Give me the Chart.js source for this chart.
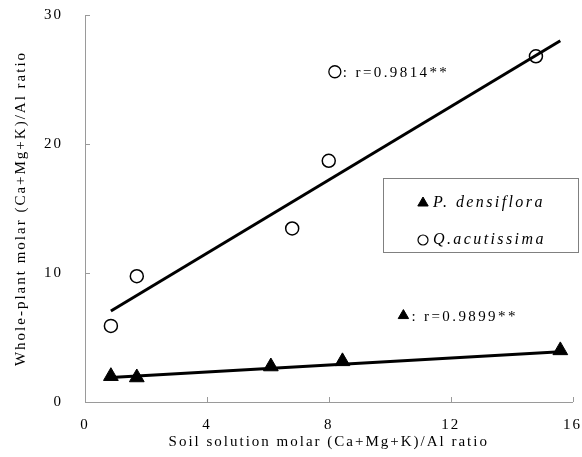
<!DOCTYPE html>
<html>
<head>
<meta charset="utf-8">
<script src="https://cdn.jsdelivr.net/npm/chart.js@4"></script>
<style>
  html, body { margin: 0; padding: 0; background: #fff; }
  #wrap { width: 582px; height: 457px; }
</style>
</head>
<body>
<div id="wrap"><canvas id="ratio-chart"></canvas></div>
<script>
/* soil vs whole-plant (Ca+Mg+K)/Al ratio */

var xTicks = [0, 4, 8, 12, 16];
var yTicks = [0, 10, 20, 30];

var quercusX = [0.85, 1.7, 6.8, 8.0, 14.8];
var quercusY = [5.9, 9.75, 13.45, 18.7, 26.8];

var pinusX = [0.85, 1.7, 6.1, 8.45, 15.6];
var pinusY = [2.0, 1.9, 2.75, 3.15, 4.0];

var quercusFitX = [0.85, 15.6];
var quercusFitY = [7.05, 28.0];

var pinusFitX = [0.85, 15.6];
var pinusFitY = [1.9, 3.9];

var labels = ['P. densiflora', 'Q.acutissima'];
var notes  = [': r=0.9814**', ': r=0.9899**'];
var notePos = [[8.2, 25.6], [10.45, 6.7]];

var SERIF = '"Liberation Serif", "DejaVu Serif", serif';

function pts(xs, ys) {
    return xs.map(function(x, i) { return { x: x, y: ys[i] }; });
}

var spacing = {
    id: 'spacing',
    beforeUpdate: function(chart) { chart.ctx.letterSpacing = '2px'; },
    beforeDraw: function(chart) { chart.ctx.letterSpacing = '2px'; }
};

var innerTicks = {
    id: 'innerTicks',
    afterDraw: function(chart) {
        var ctx = chart.ctx;
        var xs = chart.scales.x, ys = chart.scales.y;
        var a = chart.chartArea;
        ctx.save();
        ctx.strokeStyle = '#9a9a9a';
        ctx.lineWidth = 1;
        ctx.beginPath();
        xTicks.forEach(function(v) {
            var px = Math.round(xs.getPixelForValue(v)) + 0.5;
            ctx.moveTo(px, a.bottom);
            ctx.lineTo(px, a.bottom - 5);
        });
        yTicks.forEach(function(v) {
            var py = Math.round(ys.getPixelForValue(v)) + 0.5;
            ctx.moveTo(a.left, py);
            ctx.lineTo(a.left + 5, py);
        });
        ctx.stroke();
        ctx.restore();
    }
};

var notesAndLegend = {
    id: 'notesAndLegend',
    afterDraw: function(chart) {
        var ctx = chart.ctx;
        var xs = chart.scales.x, ys = chart.scales.y;
        var circle = { pointStyle: 'circle', radius: 6, borderWidth: 1.3 };
        var tri    = { pointStyle: 'triangle', radius: 6, borderWidth: 1 };
        var styles = [circle, tri];
        ctx.save();
        ctx.letterSpacing = '2.4px';

        // r annotations
        ctx.font = '15px ' + SERIF;
        ctx.textBaseline = 'middle';
        notePos.forEach(function(p, i) {
            var px = xs.getPixelForValue(p[0]);
            var py = ys.getPixelForValue(p[1]);
            ctx.strokeStyle = '#000';
            ctx.fillStyle = i === 0 ? '#fff' : '#000';
            ctx.lineWidth = styles[i].borderWidth;
            Chart.helpers.drawPoint(ctx, styles[i], px, py);
            ctx.fillStyle = '#000';
            ctx.fillText(notes[i], px + 8, py + 1);
        });

        // legend box
        ctx.strokeStyle = '#808080';
        ctx.lineWidth = 1;
        ctx.strokeRect(383.5, 178.5, 195, 74);
        ctx.font = 'italic 16px ' + SERIF;
        ctx.strokeStyle = '#000';
        ctx.fillStyle = '#000';
        Chart.helpers.drawPoint(ctx, tri, 423, 203);
        ctx.fillText(labels[0], 433, 203);
        ctx.fillStyle = '#fff';
        ctx.lineWidth = 1.2;
        Chart.helpers.drawPoint(ctx, { pointStyle: 'circle', radius: 5, borderWidth: 1.2 }, 423, 240);
        ctx.fillStyle = '#000';
        ctx.fillText(labels[1], 433, 240);
        ctx.restore();
    }
};

new Chart(document.getElementById('ratio-chart'), {
    type: 'scatter',
    data: {
        datasets: [
            {
                label: labels[0],
                data: pts(pinusX, pinusY),
                pointStyle: 'triangle',
                pointRadius: 8.5,
                pointHoverRadius: 8.5,
                backgroundColor: '#000',
                borderColor: '#000',
                borderWidth: 1,
                order: 0
            },
            {
                label: 'fit1',
                type: 'line',
                data: pts(quercusFitX, quercusFitY),
                borderColor: '#000',
                borderWidth: 3,
                pointRadius: 0,
                fill: false,
                order: 1
            },
            {
                label: 'fit2',
                type: 'line',
                data: pts(pinusFitX, pinusFitY),
                borderColor: '#000',
                borderWidth: 3,
                pointRadius: 0,
                fill: false,
                order: 1
            },
            {
                label: labels[1],
                data: pts(quercusX, quercusY),
                pointStyle: 'circle',
                pointRadius: 6.5,
                pointHoverRadius: 6.5,
                backgroundColor: '#fff',
                borderColor: '#000',
                borderWidth: 1.5,
                order: 2
            }
        ]
    },
    options: {
        responsive: true,
        maintainAspectRatio: false,
        animation: false,
        layout: { padding: { top: 15, right: 9, left: 0, bottom: 0 } },
        plugins: {
            legend: { display: false },
            tooltip: { enabled: false }
        },
        scales: {
            x: {
                type: 'linear',
                min: 0,
                max: 16,
                afterBuildTicks: function(s) { s.ticks = xTicks.map(function(v) { return { value: v }; }); },
                afterFit: function(s) { s.height = 55; s.paddingRight = 0; s.paddingLeft = 0; },
                grid: { display: false },
                border: { display: true, color: '#9a9a9a', width: 1 },
                ticks: {
                    color: '#000',
                    padding: 6,
                    maxRotation: 0,
                    font: { family: SERIF, size: 15 }
                },
                title: {
                    display: true,
                    text: 'Soil solution molar (Ca+Mg+K)/Al ratio',
                    color: '#000',
                    font: { family: SERIF, size: 15 },
                    padding: { top: 0, bottom: 6 }
                }
            },
            y: {
                type: 'linear',
                min: 0,
                max: 30,
                afterBuildTicks: function(s) { s.ticks = yTicks.map(function(v) { return { value: v }; }); },
                afterFit: function(s) { s.width = 85; s.paddingTop = 0; s.paddingBottom = 0; },
                grid: { display: false },
                border: { display: true, color: '#9a9a9a', width: 1 },
                ticks: {
                    color: '#000',
                    padding: 14,
                    font: { family: SERIF, size: 15 }
                },
                title: {
                    display: true,
                    text: 'Whole-plant molar (Ca+Mg+K)/Al ratio',
                    color: '#000',
                    font: { family: SERIF, size: 15 },
                    padding: { top: 12, bottom: 0 }
                }
            }
        }
    },
    plugins: [spacing, innerTicks, notesAndLegend]
});
</script>
</body>
</html>
